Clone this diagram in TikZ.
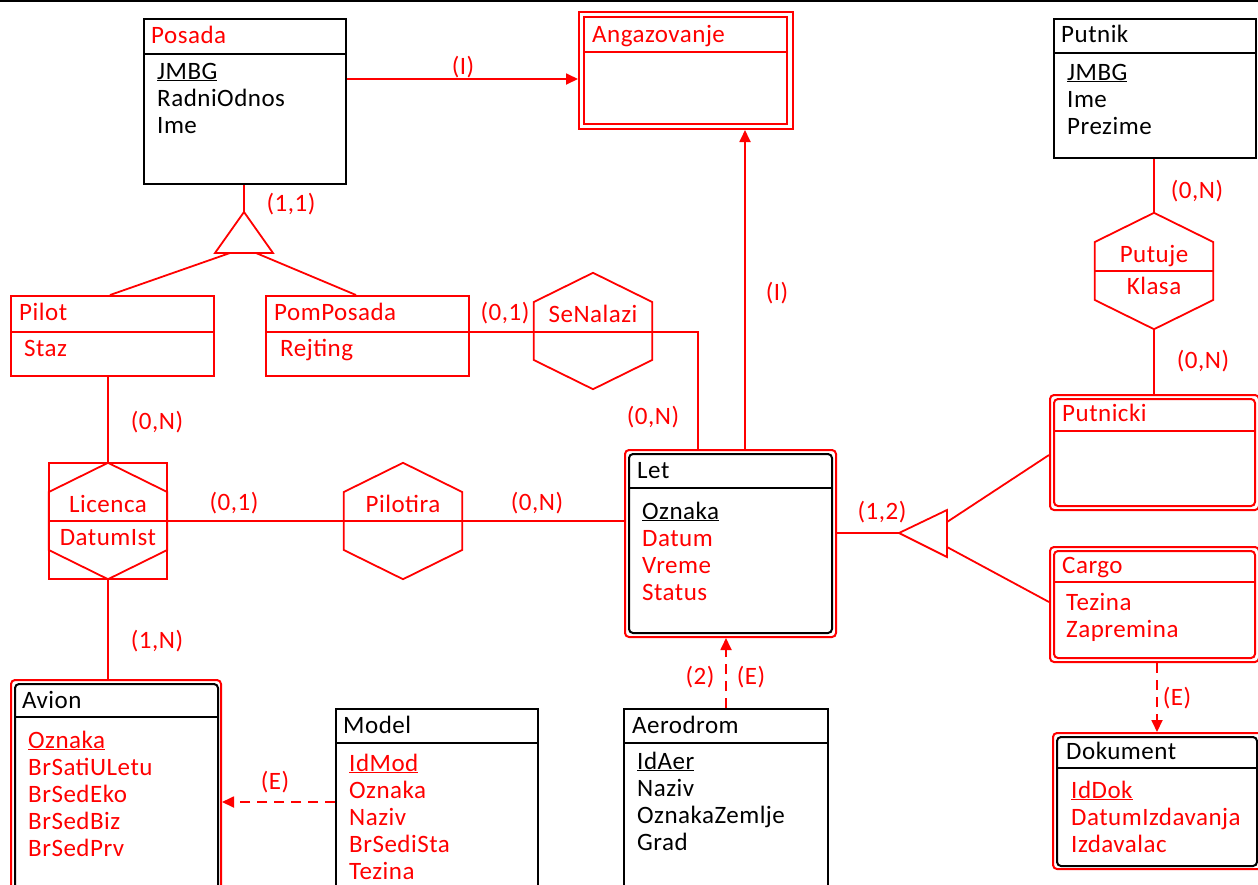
\documentclass[tikz,border=0pt]{standalone}
\usepackage{fontspec}
\setmainfont{Carlito}[LetterSpace=2]
\usetikzlibrary{calc,arrows.meta}
\definecolor{erred}{RGB}{255,0,0}
\newcommand\attlist[5]{%
  \foreach \aitem [count=\ai from 0] in {#5} {\node[att, text=#4] (#1\ai) at (#2,#3+27*\ai) {\aitem};}}
\newcommand\hexdraw[3]{%
  \node[minimum width=118pt, minimum height=116pt, inner sep=0pt] (#1) at (#2,#3) {};
  \draw[conn] (#1.north) -- ($(#1.west)+(0,-29)$) -- ($(#1.west)+(0,29)$) -- (#1.south)
    -- ($(#1.east)+(0,29)$) -- ($(#1.east)+(0,-29)$) -- cycle;}
\newcommand\hdrline[3]{\draw[hdr, draw=#3] ($(#1.north west)+(0,#2)$) -- ($(#1.north east)+(0,#2)$);}
\begin{document}
\begin{tikzpicture}[x=1pt,y=-1pt,
  every node/.style={font=\fontsize{25}{27}\selectfont},
  box/.style={draw=#1, line width=2pt, rectangle, inner sep=0pt, anchor=north west},
  rbox/.style={box=#1, rounded corners=4pt},
  hdr/.style={line width=2pt},
  conn/.style={draw=erred, line width=1.8pt},
  arr/.style={conn, -{Triangle[length=12pt,width=11pt]}},
  darr/.style={arr, dash pattern=on 10pt off 7pt},
  lbl/.style={text=erred, inner sep=0pt},
  ttl/.style={anchor=base west, inner sep=0pt},
  att/.style={anchor=base west, inner sep=0pt},
  hext/.style={anchor=base, inner sep=0pt, text=erred},
]
\useasboundingbox (0,0) rectangle (1258,884);
\clip (0,0) rectangle (1258,884);
\draw[line width=2.5pt] (0,1) -- (1258,1);

% ---------- entities ----------
\node[box=black, minimum width=202pt, minimum height=165pt] (posada) at (143,18) {};
\hdrline{posada}{36}{black}
\node[ttl, text=erred] (posadaT) at (151,43) {Posada};
\attlist{posada}{157}{79}{black}{\underline{JMBG},RadniOdnos,Ime}

\node[box=erred, minimum width=214pt, minimum height=117pt] (angaz) at (578,11) {};
\node[box=erred, minimum width=203pt, minimum height=107pt] (angazI) at (583,16) {};
\hdrline{angazI}{36}{erred}
\node[ttl, text=erred] (angazT) at (592,42) {Angazovanje};

\node[box=black, minimum width=202pt, minimum height=139pt] (putnik) at (1053,18) {};
\hdrline{putnik}{35}{black}
\node[ttl] (putnikT) at (1061,42) {Putnik};
\attlist{putnik}{1067}{80}{black}{\underline{JMBG},Ime,Prezime}

\node[box=erred, minimum width=203pt, minimum height=80pt] (pilot) at (10,295) {};
\hdrline{pilot}{37}{erred}
\node[ttl, text=erred] (pilotT) at (19,320) {Pilot};
\attlist{pilot}{24}{356}{erred}{Staz}

\node[box=erred, minimum width=203pt, minimum height=80pt] (pomposada) at (265,295) {};
\hdrline{pomposada}{37}{erred}
\node[ttl, text=erred] (pomposadaT) at (274,320) {PomPosada};
\attlist{pomposada}{280}{356}{erred}{Rejting}

\node[rbox=erred, minimum width=211pt, minimum height=187pt] (let) at (624,449) {};
\node[rbox=black, minimum width=203pt, minimum height=179pt] (letI) at (628,453) {};
\hdrline{letI}{35}{black}
\node[ttl] (letT) at (637,478) {Let};
\attlist{let}{642}{519}{erred}{\textcolor{black}{\underline{Oznaka}},Datum,Vreme,Status}

\node[rbox=erred, minimum width=209pt, minimum height=115pt] (putnicki) at (1049,394) {};
\node[rbox=erred, minimum width=201pt, minimum height=107pt] (putnickiI) at (1053,398) {};
\hdrline{putnickiI}{33}{erred}
\node[ttl, text=erred] (putnickiT) at (1062,421) {Putnicki};

\node[rbox=erred, minimum width=209pt, minimum height=115pt] (cargo) at (1049,546) {};
\node[rbox=erred, minimum width=201pt, minimum height=107pt] (cargoI) at (1053,550) {};
\hdrline{cargoI}{32}{erred}
\node[ttl, text=erred] (cargoT) at (1062,573) {Cargo};
\attlist{cargo}{1066}{610}{erred}{Tezina,Zapremina}

\node[rbox=erred, minimum width=210pt, minimum height=240pt] (avion) at (10,679) {};
\node[rbox=black, minimum width=203pt, minimum height=232pt] (avionI) at (14,683) {};
\hdrline{avionI}{34}{black}
\node[ttl] (avionT) at (22,708) {Avion};
\attlist{avion}{28}{748}{erred}{\underline{Oznaka},BrSatiULetu,BrSedEko,BrSedBiz,BrSedPrv}

\node[box=black, minimum width=202pt, minimum height=210pt] (model) at (335,708) {};
\hdrline{model}{35}{black}
\node[ttl] (modelT) at (343,733) {Model};
\attlist{model}{349}{771}{erred}{\underline{IdMod},Oznaka,Naziv,BrSediSta,Tezina}

\node[box=black, minimum width=204pt, minimum height=210pt] (aerodrom) at (623,708) {};
\hdrline{aerodrom}{35}{black}
\node[ttl] (aerodromT) at (632,733) {Aerodrom};
\attlist{aerodrom}{637}{769}{black}{\underline{IdAer},Naziv,OznakaZemlje,Grad}

\node[rbox=erred, minimum width=210pt, minimum height=136pt] (dokument) at (1052,732) {};
\node[rbox=black, minimum width=200pt, minimum height=129pt] (dokumentI) at (1056,736) {};
\hdrline{dokumentI}{32}{black}
\node[ttl] (dokumentT) at (1066,759) {Dokument};
\attlist{dokument}{1071}{798}{erred}{\underline{IdDok},DatumIzdavanja,Izdavalac}

% ---------- relationships (hexagons) ----------
\hexdraw{putuje}{1154}{271}
\draw[conn] (putuje.west) -- (putuje.east);
\node[hext] (putujeT) at (1154,262) {Putuje};
\node[hext] (klasaT) at (1154,294) {Klasa};

\hexdraw{senalazi}{593}{331}
\node[hext] (senalaziT) at (593,322) {SeNalazi};

\hexdraw{pilotira}{403}{521}
\node[hext] (pilotiraT) at (403,512) {Pilotira};

\hexdraw{licenca}{108}{521}
\draw[conn] (licenca.north west) rectangle (licenca.south east);
\draw[conn] (licenca.west) -- (licenca.east);
\node[hext] (licencaT) at (108,512) {Licenca};
\node[hext] (datumistT) at (108,545) {DatumIst};

% ---------- ISA triangles ----------
\coordinate (isa1) at (244,212);
\draw[conn] (isa1) -- ++(-29,41) -- ++(58,0) -- cycle;
\coordinate (isa1L) at ($(isa1)+(-14,41)$);
\coordinate (isa1R) at ($(isa1)+(12,41)$);
\coordinate (isa2) at (899,533);
\draw[conn] (isa2) -- ++(48,-23) -- ++(0,47) -- cycle;
\coordinate (isa2U) at ($(isa2)+(48,-11)$);
\coordinate (isa2D) at ($(isa2)+(48,14)$);

% ---------- connectors ----------
\coordinate (pA) at ($(posada.north east)+(0,61)$);
\draw[arr] (pA) -- (pA -| angaz.west);
\node[lbl] (l1) at (463,67) {(I)};

\coordinate (lA) at ($(let.north west)+(121,0)$);
\draw[arr] (lA) -- (lA |- angaz.south);
\node[lbl] (l2) at (777,293) {(I)};

\draw[conn] (isa1 |- posada.south) -- (isa1);
\node[lbl] (l3) at (291,204) {(1,1)};
\draw[conn] (isa1L) -- ($(pilot.north west)+(100,0)$);
\draw[conn] (isa1R) -- ($(pomposada.north west)+(91,0)$);

\draw[conn] (putuje.north |- putnik.south) -- (putuje.north);
\node[lbl] (l4) at (1197,191) {(0,N)};
\draw[conn] (putuje.south) -- (putuje.south |- putnicki.north);
\node[lbl] (l5) at (1203,361) {(0,N)};

\coordinate (letE) at ($(let.north east)+(0,84)$);
\draw[conn] (letE) -- (isa2);
\node[lbl] (l6) at (882,512) {(1,2)};
\draw[conn] (isa2U) -- ($(putnicki.north west)+(0,61)$);
\draw[conn] (isa2D) -- ($(cargo.north west)+(0,56)$);

\coordinate (ppE) at ($(pomposada.north east)+(0,37)$);
\draw[conn] (ppE) -| ($(let.north west)+(74,0)$);
\node[lbl] (l7) at (505,313) {(0,1)};
\node[lbl] (l8) at (653,417) {(0,N)};

\draw[conn] (licenca.north |- pilot.south) -- (licenca.north);
\node[lbl] (l9) at (157,422) {(0,N)};

\draw[conn] (licenca.east) -- (licenca.east -| let.west);
\node[lbl] (l10) at (234,503) {(0,1)};
\node[lbl] (l11) at (537,503) {(0,N)};

\draw[conn] (licenca.south) -- (licenca.south |- avion.north);
\node[lbl] (l12) at (157,641) {(1,N)};

\coordinate (mA) at ($(model.north west)+(0,94)$);
\draw[darr] (mA) -- (mA -| avion.east);
\node[lbl] (l13) at (275,782) {(E)};

\draw[darr] (aerodrom.north) -- (aerodrom.north |- let.south);
\node[lbl] (l14) at (700,677) {(2)};
\node[lbl] (l15) at (751,677) {(E)};

\coordinate (cD) at ($(cargo.south west)+(108,0)$);
\draw[darr] (cD) -- (cD |- dokument.north);
\node[lbl] (l16) at (1177,698) {(E)};
\end{tikzpicture}
\end{document}
